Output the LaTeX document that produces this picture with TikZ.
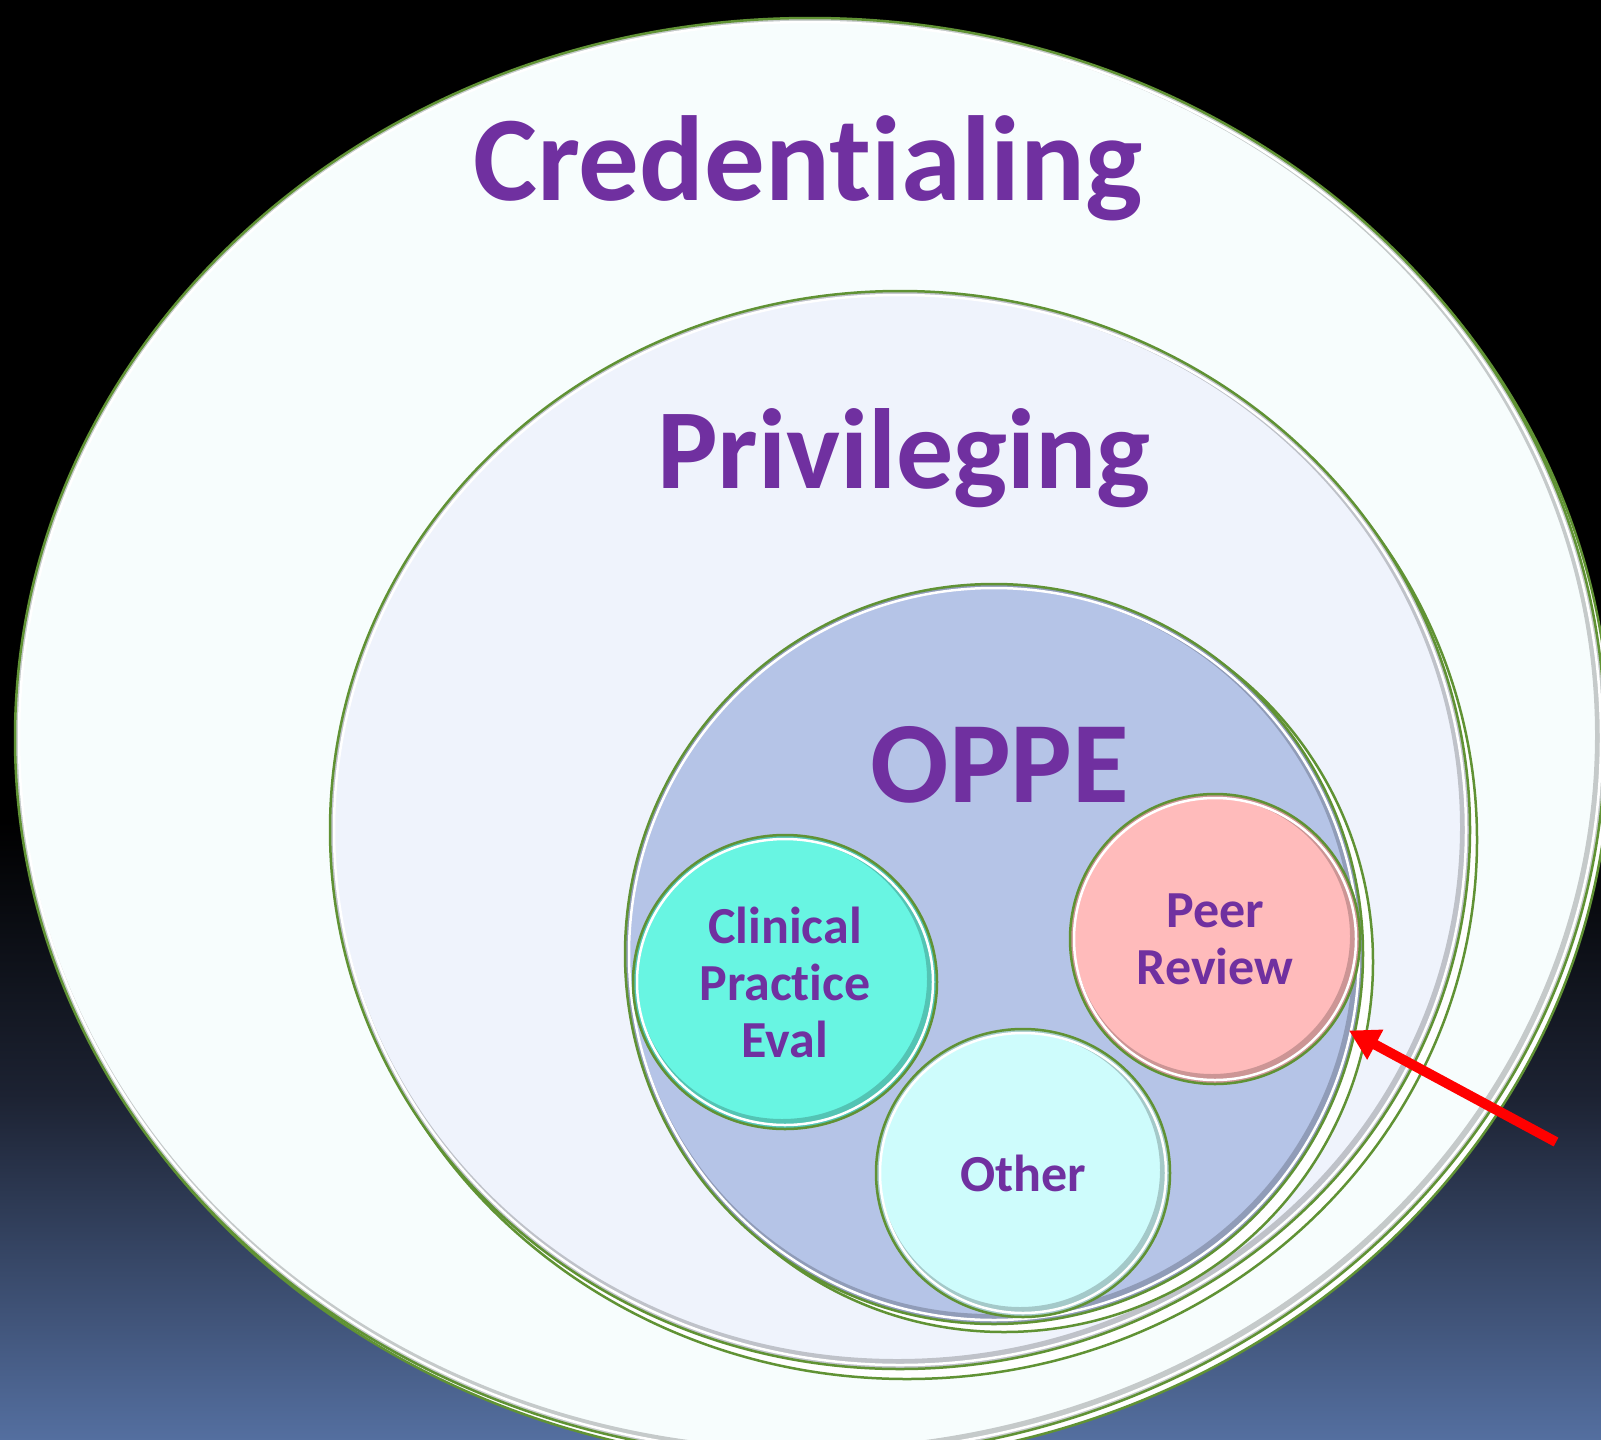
\documentclass[tikz,border=0pt]{standalone}
\usepackage{fontspec}
\setmainfont{Carlito}[Ligatures=NoCommon]
\usetikzlibrary{positioning, calc, shapes.geometric, arrows.meta}

\definecolor{rimgreen}{RGB}{96,146,52}
\definecolor{labelpurple}{RGB}{112,48,160}
\definecolor{credfill}{RGB}{247,253,253}
\definecolor{privfill}{RGB}{239,243,252}
\definecolor{oppefill}{RGB}{181,196,231}
\definecolor{clinfill}{RGB}{104,245,226}
\definecolor{peerfill}{RGB}{255,187,187}
\definecolor{otherfill}{RGB}{206,252,252}
\definecolor{slateblue}{RGB}{84,111,160}
\definecolor{nightblue}{RGB}{28,34,50}

\pgfdeclareverticalshading{backdrop}{100bp}{color(0bp)=(slateblue); color(25bp)=(slateblue);
    color(37bp)=(nightblue); color(46.5bp)=(black); color(100bp)=(black)}

\tikzstyle{Disc} = [
ellipse, draw=rimgreen, line width=2.5pt, inner sep=0pt,
text=labelpurple, align=center, font=\bfseries\fontsize{52}{57}\selectfont,
path picture={
\draw[black, opacity=0.2, line width=14pt]
    let \p1 = (path picture bounding box.north east),
        \p2 = (path picture bounding box.center) in
    ($(\p2)+(-3pt,3pt)$) ellipse [x radius=\x1-\x2, y radius=\y1-\y2];
\draw[white, line width=2.5pt]
    let \p1 = (path picture bounding box.north east),
        \p2 = (path picture bounding box.center) in
    (\p2) ellipse [x radius=\x1-\x2-4pt, y radius=\y1-\y2-4pt];
}]
\tikzstyle{Echo} = [fill=white, draw=rimgreen, line width=2.5pt]
\tikzstyle{Title} = [text=labelpurple, anchor=base, inner sep=0pt]
\tikzstyle{Pointer} = [draw=red, line width=10pt,
-{Triangle[length=30pt, width=32pt]}, shorten >=16pt]

\begin{document}
\begin{tikzpicture}[x=1pt, y=-1pt]
    \useasboundingbox (0,0) rectangle (1601,1440);
    \shade[shading=backdrop] (0,0) rectangle (1601,1440);

    \filldraw[Echo] (815,744) ellipse [x radius=795, y radius=720];
    \node[Disc, fill=credfill, minimum width=1590, minimum height=1440] (cred) at (810,738) {};
    \node[Title, font=\bfseries\fontsize{121}{121}\selectfont] (credtitle) at (808,200) {Credentialing};

    \filldraw[Echo] (907,840) ellipse [x radius=570, y radius=539];
    \node[Disc, fill=privfill, minimum width=1140, minimum height=1078] (priv) at (900,830) {};
    \node[Title, font=\bfseries\fontsize{114}{114}\selectfont] (privtitle) at (904,488) {Privileging};

    \filldraw[Echo] (1004,962) ellipse [x radius=369, y radius=370];
    \node[Disc, fill=oppefill, minimum width=738, minimum height=740] (oppe) at (994,954) {};
    \node[Title, font=\bfseries\fontsize{116}{116}\selectfont] (oppetitle) at (1000,802) {OPPE};

    \node[Disc, fill=clinfill, minimum width=304, minimum height=294] (clin) at (785,982)
        {Clinical\\Practice\\Eval};
    \node[Disc, fill=peerfill, minimum width=290, minimum height=290] (peer) at (1215,939)
        {Peer\\Review};
    \node[Disc, fill=otherfill, minimum width=294, minimum height=288] (other) at (1023,1173)
        {Other};

    \coordinate (tail) at (1556,1142);
    \draw[Pointer] (tail) -- (peer.-35);
\end{tikzpicture}
\end{document}
